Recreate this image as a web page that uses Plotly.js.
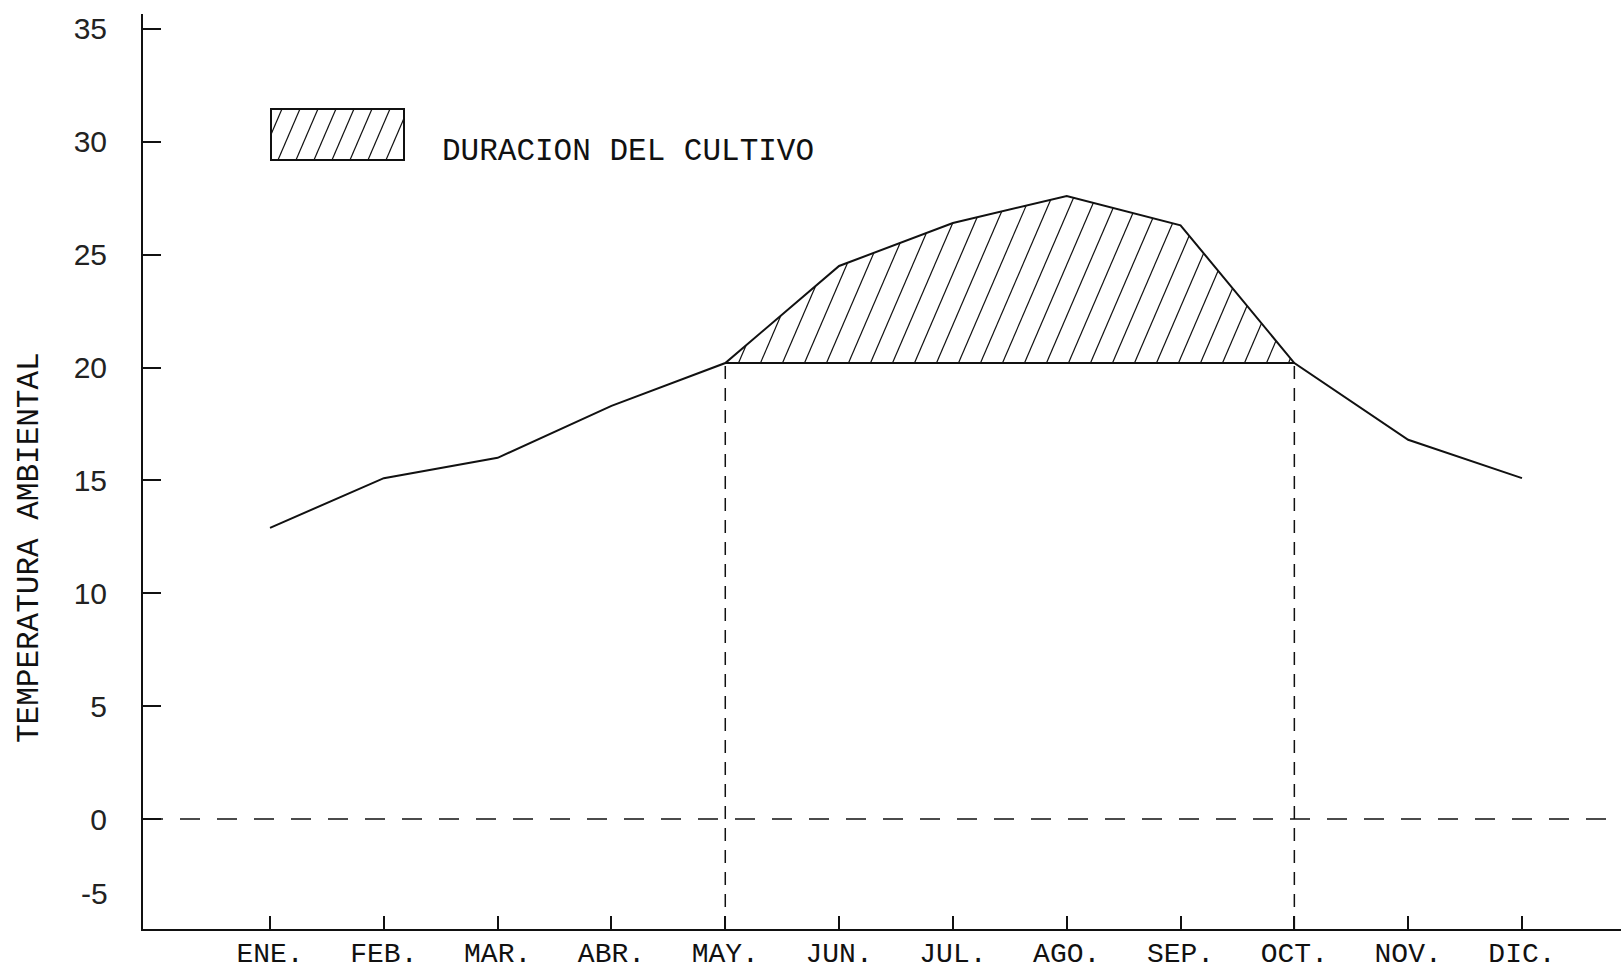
<!DOCTYPE html>
<html>
<head>
<meta charset="utf-8">
<script src="https://cdn.plot.ly/plotly-3.0.1.min.js"></script>
<style>
  html, body { margin: 0; padding: 0; background: #fff; }
  #chart { width: 1621px; height: 969px; }
</style>
</head>
<body>
<div id="chart"></div>
<script>
// ---- Data ----
const meses = ['ENE.', 'FEB.', 'MAR.', 'ABR.', 'MAY.', 'JUN.', 'JUL.', 'AGO.', 'SEP.', 'OCT.', 'NOV.', 'DIC.'];
const temperatura = [12.9, 15.1, 16.0, 18.3, 20.2, 24.5, 26.4, 27.6, 26.3, 20.2, 16.8, 15.1];
const umbral = 20.2;               // base of the hatched region
const inicioCultivo = 'MAY.';
const finCultivo = 'OCT.';
const yTickVals = [0, 5, 10, 15, 20, 25, 30, 35];
const yTickText = ['0', '5', '10', '15', '20', '25', '30', '35'];
const etiquetaMenos5 = '-5';
const valorMenos5 = -3.3;          // where the "-5" label sits in the picture
const textoLeyenda = 'DURACION DEL CULTIVO';
const tituloY = 'TEMPERATURA AMBIENTAL';

// ---- Layout geometry ----
const W = 1621, H = 969;
const M = { l: 143, r: 0, t: 14, b: 40 };
const pw = W - M.l - M.r, ph = H - M.t - M.b;
const xRange = [-1.116, 11.87];
const yRange = [-4.87, 35.66];
const pxPerX = pw / (xRange[1] - xRange[0]);
const pxPerY = ph / (yRange[1] - yRange[0]);

const mono = 'Liberation Mono, Courier New, monospace';
const sans = 'Liberation Sans, Arial, sans-serif';
const ink = '#111';

const xIdx = meses.map((m, i) => i);
const i0 = meses.indexOf(inicioCultivo);
const i1 = meses.indexOf(finCultivo);

// ---- Hatch lines inside the crop-duration region (derived from the data) ----
const hatchSlopePx = 0.43;              // horizontal px per vertical px
const k = hatchSlopePx * pxPerY / pxPerX; // x-units per y-unit
const hatchSpacing = 22 / pxPerX;
const hx = [], hy = [];
function seg(i, x) { return temperatura[i] + (temperatura[i + 1] - temperatura[i]) * (x - i); }
for (let x0 = i0 + hatchSpacing * 0.6; x0 < i1 - 0.02; x0 += hatchSpacing) {
  for (let i = Math.floor(x0); i < i1; i++) {
    const xa = Math.max(i, x0), xb = i + 1;
    const g = x => seg(i, x) - umbral - (x - x0) / k;
    const ga = g(xa), gb = g(xb);
    if (ga >= 0 && gb <= 0) {
      const xs = xa + (xb - xa) * ga / (ga - gb);
      hx.push(x0, xs, null);
      hy.push(umbral, seg(i, xs), null);
      break;
    }
  }
}

const traces = [
  { // hatch
    x: hx, y: hy, mode: 'lines', type: 'scatter',
    line: { color: ink, width: 1.2 }, hoverinfo: 'skip', showlegend: false
  },
  { // base of hatched region
    x: [i0, i1], y: [umbral, umbral], mode: 'lines', type: 'scatter',
    line: { color: ink, width: 1.8 }, hoverinfo: 'skip', showlegend: false
  },
  { // vertical dashed line at start
    x: [i0, i0], y: [yRange[0], temperatura[i0]], mode: 'lines', type: 'scatter',
    line: { color: ink, width: 1.5, dash: '13px,9px' }, hoverinfo: 'skip', showlegend: false
  },
  { // vertical dashed line at end
    x: [i1, i1], y: [yRange[0], temperatura[i1]], mode: 'lines', type: 'scatter',
    line: { color: ink, width: 1.5, dash: '13px,9px' }, hoverinfo: 'skip', showlegend: false
  },
  { // temperature curve
    x: xIdx, y: temperatura, mode: 'lines', type: 'scatter',
    line: { color: ink, width: 2 }, showlegend: false,
    text: meses, hovertemplate: '%{text}: %{y}<extra></extra>'
  }
];

// ---- Legend box (pixel geometry converted to paper coordinates) ----
const px2X = px => (px - M.l) / pw;
const px2Y = py => 1 - (py - M.t) / ph;
const box = { x0: 271, x1: 404, y0: 109, y1: 160 };
const shapes = [
  { type: 'line', xref: 'paper', yref: 'y', x0: 0, x1: 1, y0: 0, y1: 0,
    line: { color: ink, width: 1.5, dash: '20px,17px' } },
  { type: 'rect', xref: 'paper', yref: 'paper',
    x0: px2X(box.x0), x1: px2X(box.x1), y0: px2Y(box.y1), y1: px2Y(box.y0),
    line: { color: ink, width: 2 }, fillcolor: 'rgba(0,0,0,0)' }
];
const bh = box.y1 - box.y0;
for (let b = 278 - 18 * 3; b < box.x1; b += 18) {
  let xs = b, ys = box.y1, xe = b + hatchSlopePx * bh, ye = box.y0;
  if (xs < box.x0) { ys = box.y1 - (box.x0 - b) / hatchSlopePx; xs = box.x0; }
  if (xe > box.x1) { ye = box.y1 - (box.x1 - b) / hatchSlopePx; xe = box.x1; }
  if (ys <= box.y0 || xs >= box.x1) continue;
  shapes.push({ type: 'line', xref: 'paper', yref: 'paper',
    x0: px2X(xs), y0: px2Y(ys), x1: px2X(xe), y1: px2Y(ye),
    line: { color: ink, width: 1.2 } });
}

const layout = {
  width: W, height: H,
  margin: M,
  paper_bgcolor: '#fff', plot_bgcolor: '#fff',
  showlegend: false,
  xaxis: {
    range: xRange, tickmode: 'array', tickvals: xIdx, ticktext: meses,
    showgrid: false, zeroline: false, showline: true, linecolor: ink, linewidth: 2,
    ticks: 'inside', ticklen: 13, tickwidth: 1.5, tickcolor: ink,
    tickfont: { family: mono, size: 28, color: ink }, ticklabelstandoff: -3
  },
  yaxis: {
    range: yRange, tickmode: 'array', tickvals: yTickVals, ticktext: yTickText,
    showgrid: false, zeroline: false, showline: true, linecolor: ink, linewidth: 2,
    ticks: 'inside', ticklen: 18, tickwidth: 1.8, tickcolor: ink,
    tickfont: { family: sans, size: 30, color: '#222' }, ticklabelstandoff: 28
  },
  shapes: shapes,
  annotations: [
    { xref: 'paper', yref: 'paper', x: px2X(440), y: px2Y(151), xanchor: 'left', yanchor: 'middle',
      text: textoLeyenda, showarrow: false, font: { family: mono, size: 31, color: ink } },
    { xref: 'paper', yref: 'y', x: px2X(110), y: valorMenos5, xanchor: 'right', yanchor: 'middle',
      text: etiquetaMenos5, showarrow: false, font: { family: sans, size: 30, color: '#222' } },
    { xref: 'paper', yref: 'paper', x: px2X(29), y: px2Y(548), xanchor: 'center', yanchor: 'middle',
      textangle: -90, text: tituloY, showarrow: false, font: { family: mono, size: 31, color: ink } }
  ]
};

Plotly.newPlot('chart', traces, layout, { displayModeBar: false });
</script>
</body>
</html>
